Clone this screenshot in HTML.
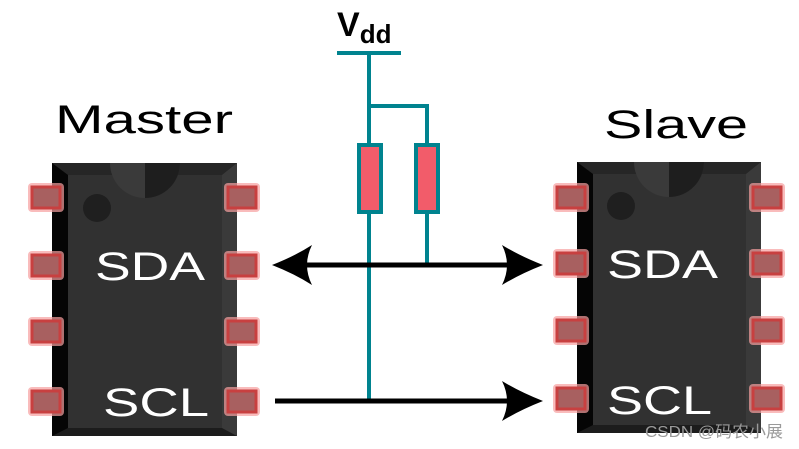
<!DOCTYPE html>
<html><head><meta charset="utf-8"><style>
html,body{margin:0;padding:0;background:#fff;}
svg{display:block}
</style></head><body>
<svg width="799" height="449" viewBox="0 0 799 449" xmlns="http://www.w3.org/2000/svg">
<defs>
<g id="pin">
<rect x="-2" y="-2" width="36" height="29" rx="4" fill="#f6a0a0" opacity="0.7"/>
<rect x="2" y="2" width="28" height="21" fill="#a86060" stroke="#c84040" stroke-width="3"/>
</g>
</defs>
<g>
<rect x="52" y="163" width="185" height="273" fill="#313131"/>
<rect x="52" y="163" width="16" height="273" fill="#050505"/>
<polygon points="52,163 237,163 222,175 68,175" fill="#262626"/>
<polygon points="222,175 237,163 237,436 222,436" fill="#3a3a3a"/>
<polygon points="52,436 237,436 222,428 68,428" fill="#1c1c1c"/>
<path d="M110,163 A35,35 0 0 0 180,163 Z" fill="#3a3a3a"/>
<path d="M145,163 L180,163 A35,35 0 0 1 145,198 Z" fill="#1e1e1e"/>
<circle cx="97" cy="208" r="14" fill="#1f1f1f"/>
<use href="#pin" x="30" y="185"/><use href="#pin" x="30" y="253"/><use href="#pin" x="30" y="319"/><use href="#pin" x="30" y="389"/>
<use href="#pin" x="226" y="185"/><use href="#pin" x="226" y="253"/><use href="#pin" x="226" y="319"/><use href="#pin" x="226" y="389"/>
<text x="95" y="280" font-family="Liberation Sans, sans-serif" font-size="40" fill="#fff" textLength="110" lengthAdjust="spacingAndGlyphs">SDA</text>
<text x="103" y="416" font-family="Liberation Sans, sans-serif" font-size="40" fill="#fff" textLength="106" lengthAdjust="spacingAndGlyphs">SCL</text>
</g>
<g>
<rect x="577" y="162" width="184" height="271" fill="#313131"/>
<rect x="577" y="162" width="16" height="271" fill="#050505"/>
<polygon points="577,162 761,162 746,174 593,174" fill="#262626"/>
<polygon points="746,174 761,162 761,433 746,433" fill="#3a3a3a"/>
<polygon points="577,433 761,433 746,425 593,425" fill="#1c1c1c"/>
<path d="M634,162 A35,35 0 0 0 704,162 Z" fill="#3a3a3a"/>
<path d="M669,162 L704,162 A35,35 0 0 1 669,197 Z" fill="#1e1e1e"/>
<circle cx="621" cy="206" r="14" fill="#1f1f1f"/>
<use href="#pin" x="555" y="185"/><use href="#pin" x="555" y="251"/><use href="#pin" x="555" y="318"/><use href="#pin" x="555" y="386"/>
<use href="#pin" x="751" y="185"/><use href="#pin" x="751" y="251"/><use href="#pin" x="751" y="318"/><use href="#pin" x="751" y="386"/>
<text x="607" y="278" font-family="Liberation Sans, sans-serif" font-size="40" fill="#fff" textLength="111" lengthAdjust="spacingAndGlyphs">SDA</text>
<text x="607" y="414" font-family="Liberation Sans, sans-serif" font-size="40" fill="#fff" textLength="105" lengthAdjust="spacingAndGlyphs">SCL</text>
</g>
<text x="55" y="133" font-family="Liberation Sans, sans-serif" font-size="40" fill="#000" textLength="178" lengthAdjust="spacingAndGlyphs">Master</text>
<text x="604" y="138" font-family="Liberation Sans, sans-serif" font-size="40" fill="#000" textLength="144" lengthAdjust="spacingAndGlyphs">Slave</text>
<text x="337" y="36" font-family="Liberation Sans, sans-serif" font-size="34" font-weight="bold" fill="#000">V<tspan font-size="26" dy="7">dd</tspan></text>
<g stroke="#00838f" stroke-width="4" fill="none">
<line x1="337" y1="53" x2="401" y2="53"/>
<line x1="369" y1="53" x2="369" y2="401"/>
<polyline points="369,106 427,106 427,263"/>
</g>
<rect x="359" y="145" width="22" height="67" fill="#f25c6a" stroke="#00838f" stroke-width="4"/>
<rect x="416" y="145" width="22" height="67" fill="#f25c6a" stroke="#00838f" stroke-width="4"/>
<line x1="290" y1="265" x2="525" y2="265" stroke="#000" stroke-width="5"/>
<path d="M272,265 Q295,256 312,245 Q302,265 312,285 Q295,274 272,265 Z" fill="#000"/>
<path d="M543,265 Q520,256 502,245 Q512,265 502,285 Q520,274 543,265 Z" fill="#000"/>
<line x1="275" y1="401" x2="525" y2="401" stroke="#000" stroke-width="5"/>
<path d="M543,401 Q520,392 502,381 Q512,401 502,421 Q520,410 543,401 Z" fill="#000"/>
<text x="645" y="437" font-family="Liberation Sans, 'Noto Sans CJK SC', sans-serif" font-size="16" fill="#9a9a9a" textLength="138" lengthAdjust="spacingAndGlyphs">CSDN @码农小展</text>
</svg>
</body></html>
